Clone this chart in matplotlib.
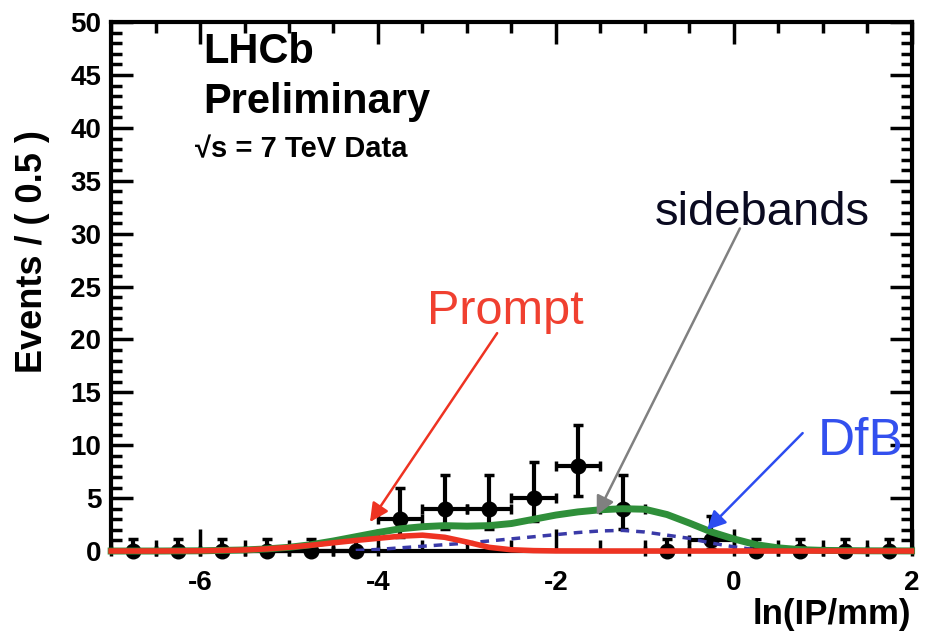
import matplotlib
matplotlib.use("Agg")
import matplotlib.pyplot as plt
from matplotlib.ticker import MultipleLocator

plt.rcParams['font.family'] = ['Liberation Sans', 'DejaVu Sans']
plt.rcParams['axes.unicode_minus'] = False

# ---- data points ----
bin_x = [-6.75, -6.25, -5.75, -5.25, -4.75, -4.25, -3.75, -3.25, -2.75, -2.25,
         -1.75, -1.25, -0.75, -0.25, 0.25, 0.75, 1.25, 1.75]
counts = [0, 0, 0, 0, 0, 0, 3, 4, 4, 5, 8, 4, 0, 1, 0, 0, 0, 0]
err_lo = [0, 0, 0, 0, 0, 0, 1.63, 1.91, 1.91, 2.16, 2.77, 1.91, 0, 0.83, 0, 0, 0, 0]
err_hi = [1.15, 1.15, 1.15, 1.15, 1.15, 1.15, 2.92, 3.16, 3.16, 3.38, 3.94, 3.16,
          1.15, 2.30, 1.15, 1.15, 1.15, 1.15]
bin_half = [0.25] * len(bin_x)

# ---- fitted curves ----
total_x = [-7.0, -6.5, -6.0, -5.5, -5.25, -5.0, -4.75, -4.5, -4.25, -4.0, -3.75, -3.5,
           -3.25, -3.0, -2.75, -2.5, -2.25, -2.0, -1.75, -1.5, -1.25, -1.0, -0.75,
           -0.5, -0.25, 0.0, 0.25, 0.5, 0.75, 1.0, 1.5, 2.0]
total_y = [0.0, 0.0, 0.02, 0.1, 0.2, 0.35, 0.6, 0.95, 1.35, 1.75, 2.1, 2.3,
           2.4, 2.35, 2.4, 2.6, 3.0, 3.4, 3.7, 3.9, 4.0, 3.95, 3.45,
           2.65, 1.8, 1.15, 0.6, 0.3, 0.13, 0.06, 0.02, 0.01]

prompt_x = [-7.0, -6.5, -6.0, -5.5, -5.25, -5.0, -4.75, -4.5, -4.25, -4.0, -3.75, -3.5,
            -3.25, -3.0, -2.75, -2.5, -2.25, -2.0, -1.5, 2.0]
prompt_y = [0.0, 0.0, 0.02, 0.1, 0.2, 0.35, 0.55, 0.78, 1.0, 1.2, 1.4, 1.5,
            1.3, 0.85, 0.35, 0.12, 0.04, 0.01, 0.0, 0.0]

dfb_x = [-4.25, -4.0, -3.75, -3.5, -3.25, -3.0, -2.75, -2.5, -2.25, -2.0, -1.75,
         -1.5, -1.25, -1.0, -0.75, -0.5, -0.25, 0.0, 0.25, 0.5, 0.75]
dfb_y = [0.05, 0.15, 0.3, 0.45, 0.6, 0.75, 0.95, 1.15, 1.35, 1.55, 1.75,
         1.9, 1.95, 1.8, 1.5, 1.2, 0.75, 0.4, 0.12, 0.03, 0.0]

fig = plt.figure(figsize=(9.34, 6.33), dpi=100)
ax = fig.add_axes([0.119, 0.1295, 0.857, 0.8355])

ax.errorbar(bin_x, counts, xerr=bin_half, yerr=[err_lo, err_hi], fmt='o',
            color='black', ms=10.5, elinewidth=3, capsize=3.5, capthick=2.5,
            zorder=3, clip_on=False)

ax.plot(dfb_x, dfb_y, color='#3a3aa8', lw=2.5, linestyle=(0, (2.5, 2)), zorder=4)
ax.plot(total_x, total_y, color='#2f8f3a', lw=5, zorder=5, clip_on=False)
ax.plot(prompt_x, prompt_y, color='#ee3322', lw=4, zorder=6, clip_on=False)

ax.set_xlim(-7, 2)
ax.set_ylim(0, 50)

ax.xaxis.set_major_locator(MultipleLocator(2))
ax.xaxis.set_minor_locator(MultipleLocator(0.5))
ax.yaxis.set_major_locator(MultipleLocator(5))
ax.yaxis.set_minor_locator(MultipleLocator(1))
ax.tick_params(which='both', direction='in', top=True, right=True, width=2.5,
               color='black')
ax.tick_params(which='major', length=16, labelsize=20, pad=7)
ax.tick_params(which='minor', length=8)
ax.tick_params(axis='x', which='major', pad=14)
for lab in ax.get_xticklabels() + ax.get_yticklabels():
    lab.set_fontweight('bold')
for s in ax.spines.values():
    s.set_linewidth(3)

ax.set_ylabel('Events / ( 0.5 )', fontsize=26, fontweight='bold')
ax.yaxis.set_label_coords(-0.076, 0.566)
ax.set_xlabel('ln(IP/mm)', fontsize=25, fontweight='bold')
ax.xaxis.set_label_coords(1.0, -0.088)
ax.xaxis.label.set_horizontalalignment('right')

# text
ax.text(0.115, 0.922, 'LHCb', transform=ax.transAxes, fontsize=30,
        fontweight='bold', ha='left', va='baseline')
ax.text(0.115, 0.828, 'Preliminary', transform=ax.transAxes, fontsize=30,
        fontweight='bold', ha='left', va='baseline')
ax.text(0.105, 0.745, '√s = 7 TeV Data', transform=ax.transAxes,
        fontsize=21, fontweight='bold', ha='left', va='baseline')

ax.text(-3.45, 21.5, 'Prompt', color='#f04030', fontsize=35, ha='left', va='baseline')
ax.text(-0.89, 30.8, 'sidebands', color='#0a0a20', fontsize=34, ha='left', va='baseline')
ax.text(0.94, 9.1, 'DfB', color='#3350ee', fontsize=37, ha='left', va='baseline')

ax.annotate('', xy=(-4.09, 2.74), xytext=(-2.66, 20.6),
            arrowprops=dict(arrowstyle='-|>', color='#ee3322', lw=1.8,
                            mutation_scale=28, shrinkA=0, shrinkB=0), zorder=7)
ax.annotate('', xy=(-1.54, 3.4), xytext=(0.07, 30.5),
            arrowprops=dict(arrowstyle='-|>', color='#808080', lw=1.8,
                            mutation_scale=28, shrinkA=0, shrinkB=0), zorder=7)
ax.annotate('', xy=(-0.30, 2.0), xytext=(0.775, 11.15),
            arrowprops=dict(arrowstyle='-|>', color='#2c4cf0', lw=1.8,
                            mutation_scale=28, shrinkA=0, shrinkB=0), zorder=7)

fig.savefig('out.png', dpi=100)
